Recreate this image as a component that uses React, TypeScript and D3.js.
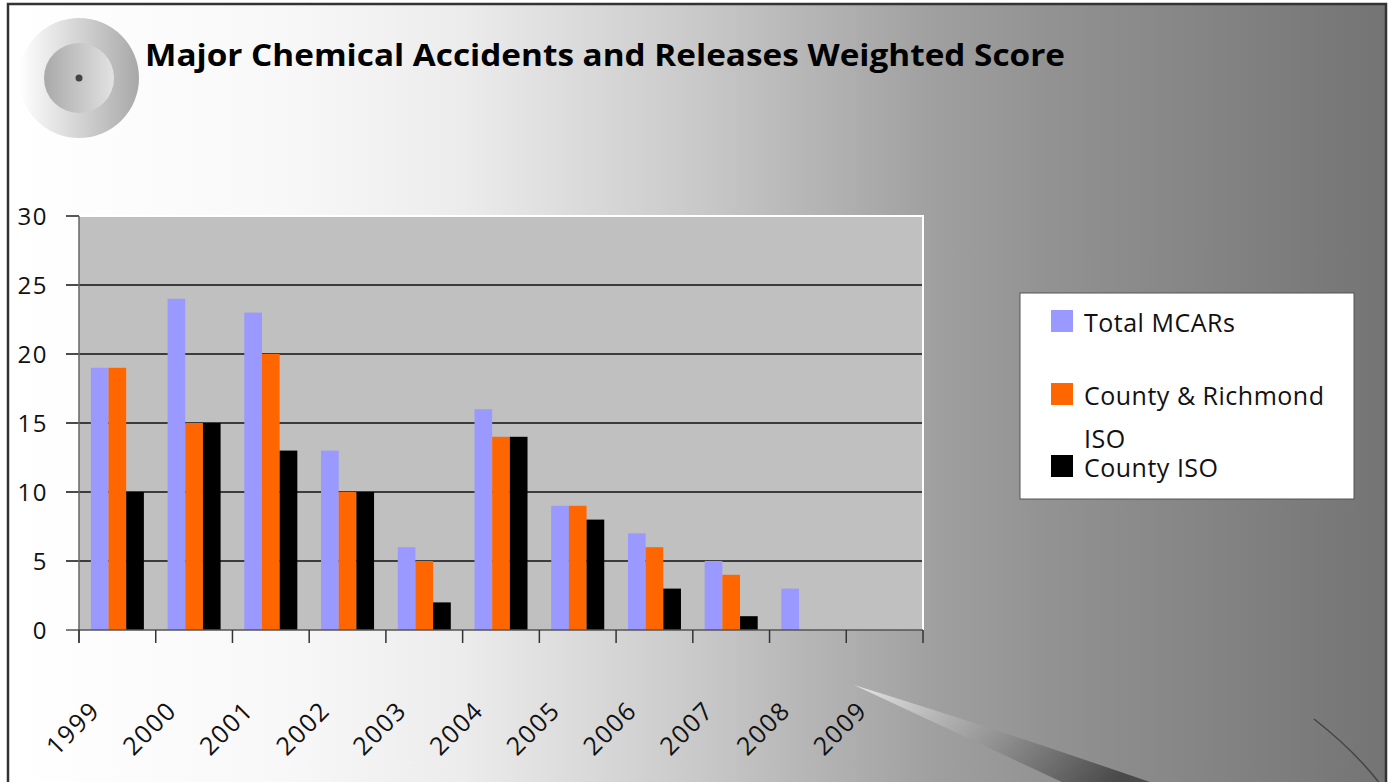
import * as d3 from "d3";

const years = ["1999", "2000", "2001", "2002", "2003", "2004", "2005", "2006", "2007", "2008", "2009"];
const seriesNames = ["Total MCARs", "County & Richmond ISO", "County ISO"];
const totalMcars = [19, 24, 23, 13, 6, 16, 9, 7, 5, 3, 0];
const countyRichmondIso = [19, 15, 20, 10, 5, 14, 9, 6, 4, 0, 0];
const countyIso = [10, 15, 13, 10, 2, 14, 8, 3, 1, 0, 0];
const yTicks = [0, 5, 10, 15, 20, 25, 30];
const colors = ["#9999FF", "#FF6600", "#000000"];

const W = 1391, H = 782;
const plot = { left: 79, right: 923, top: 216, bottom: 630 };
const font = "'Open Sans', 'DejaVu Sans', sans-serif";

export default function App() {
  const x = d3.scaleBand<string>().domain(years).range([plot.left, plot.right]).padding(0);
  const xs = d3.scaleBand<string>().domain(seriesNames).range([0, x.bandwidth()]).paddingInner(0).paddingOuter(0.67);
  const y = d3.scaleLinear().domain([0, 30]).range([plot.bottom, plot.top]);
  const series = [totalMcars, countyRichmondIso, countyIso];
  const boundaries = years.map(yr => x(yr)!).concat([plot.right]);

  return (
    <svg width={W} height={H} style={{ position: "absolute", left: 0, top: 0 }} fontFamily={font}>
      <defs>
        <linearGradient id="bg" x1="0" x2="1" y1="0" y2="0">
          <stop offset="0" stopColor="#ffffff" />
          <stop offset="0.2" stopColor="#f8f8f8" />
          <stop offset="0.33" stopColor="#ececec" />
          <stop offset="0.5" stopColor="#c9c9c9" />
          <stop offset="0.67" stopColor="#a0a0a0" />
          <stop offset="0.75" stopColor="#939393" />
          <stop offset="0.88" stopColor="#838383" />
          <stop offset="1" stopColor="#747474" />
        </linearGradient>
        <linearGradient id="outer" x1="0" x2="1" y1="0" y2="0">
          <stop offset="0" stopColor="#ffffff" />
          <stop offset="1" stopColor="#a8a8a8" />
        </linearGradient>
        <linearGradient id="inner" x1="0" x2="1" y1="0" y2="0">
          <stop offset="0" stopColor="#a9a9a9" />
          <stop offset="1" stopColor="#e2e2e2" />
        </linearGradient>
        <linearGradient id="swoosh" x1="0" x2="1" y1="0" y2="0.3">
          <stop offset="0" stopColor="#e6e6e6" />
          <stop offset="0.5" stopColor="#9a9a9a" />
          <stop offset="1" stopColor="#4a4a4a" />
        </linearGradient>
      </defs>

      <rect x={0} y={0} width={W} height={H} fill="#fff" />
      <rect x={8} y={4} width={1378} height={800} fill="url(#bg)" stroke="#333" strokeWidth={2.5} />

      {/* decoration */}
      <circle cx={79} cy={78} r={60} fill="url(#outer)" />
      <circle cx={79} cy={78} r={35} fill="url(#inner)" />
      <circle cx={79} cy={78} r={3.5} fill="#444" />
      <path d="M854,685 Q1000,730 1173,790 L1079,790 Z" fill="url(#swoosh)" />
      <path d="M1314,719 Q1360,755 1386,792" fill="none" stroke="#444" strokeWidth={1.5} />

      <text x={145} y={66} fontSize={31} fontWeight="bold" fill="#000" textLength={920} lengthAdjust="spacingAndGlyphs">
        Major Chemical Accidents and Releases Weighted Score
      </text>

      {/* plot area */}
      <rect x={plot.left} y={plot.top} width={plot.right - plot.left} height={plot.bottom - plot.top} fill="#c0c0c0" />
      {yTicks.filter(t => t > 0 && t < 30).map(t => (
        <line key={t} x1={66} x2={plot.right} y1={y(t)} y2={y(t)} stroke="#111" strokeWidth={1.5} />
      ))}
      <line x1={66} x2={plot.left} y1={y(30)} y2={y(30)} stroke="#222" strokeWidth={1.5} />
      <line x1={plot.left} x2={plot.right + 1} y1={plot.top} y2={plot.top} stroke="#fff" strokeWidth={2} />
      <line x1={plot.right} x2={plot.right} y1={plot.top} y2={plot.bottom} stroke="#fff" strokeWidth={2} />

      {series.map((vals, si) =>
        years.map((yr, i) => (
          <rect key={`${si}-${yr}`} x={x(yr)! + xs(seriesNames[si])!} y={y(vals[i])}
            width={xs.bandwidth()} height={plot.bottom - y(vals[i])} fill={colors[si]} />
        ))
      )}

      <line x1={plot.left} x2={plot.left} y1={plot.top} y2={643} stroke="#666" strokeWidth={1.5} />
      <line x1={66} x2={plot.right} y1={plot.bottom} y2={plot.bottom} stroke="#555" strokeWidth={1.5} />
      {boundaries.map((bx, i) => (
        <line key={i} x1={bx} x2={bx} y1={plot.bottom} y2={643} stroke="#333" strokeWidth={1.5} />
      ))}

      {yTicks.map(t => (
        <text key={t} x={48} y={y(t) + 9} fontSize={24} textAnchor="end" fill="#111" letterSpacing={1.5}>{t}</text>
      ))}
      {years.map(yr => {
        const cx = x(yr)! + x.bandwidth() / 2 - 16;
        return (
          <text key={yr} x={cx} y={712} fontSize={25} textAnchor="end" fill="#111" letterSpacing={1.5}
            transform={`rotate(-45 ${cx} 712)`}>{yr}</text>
        );
      })}

      {/* legend */}
      <rect x={1020} y={293} width={334} height={206} fill="#fff" stroke="#555" strokeWidth={1} />
      <rect x={1051} y={310} width={22} height={22} fill={colors[0]} />
      <text x={1084} y={332} fontSize={25} fill="#111" letterSpacing={0.5}>Total MCARs</text>
      <rect x={1051} y={383} width={22} height={22} fill={colors[1]} />
      <text x={1084} y={405} fontSize={25} fill="#111" letterSpacing={0.5}>County &amp; Richmond</text>
      <text x={1084} y={448} fontSize={25} fill="#111" letterSpacing={0.5}>ISO</text>
      <rect x={1051} y={455} width={22} height={22} fill={colors[2]} />
      <text x={1084} y={477} fontSize={25} fill="#111" letterSpacing={0.5}>County ISO</text>
    </svg>
  );
}
